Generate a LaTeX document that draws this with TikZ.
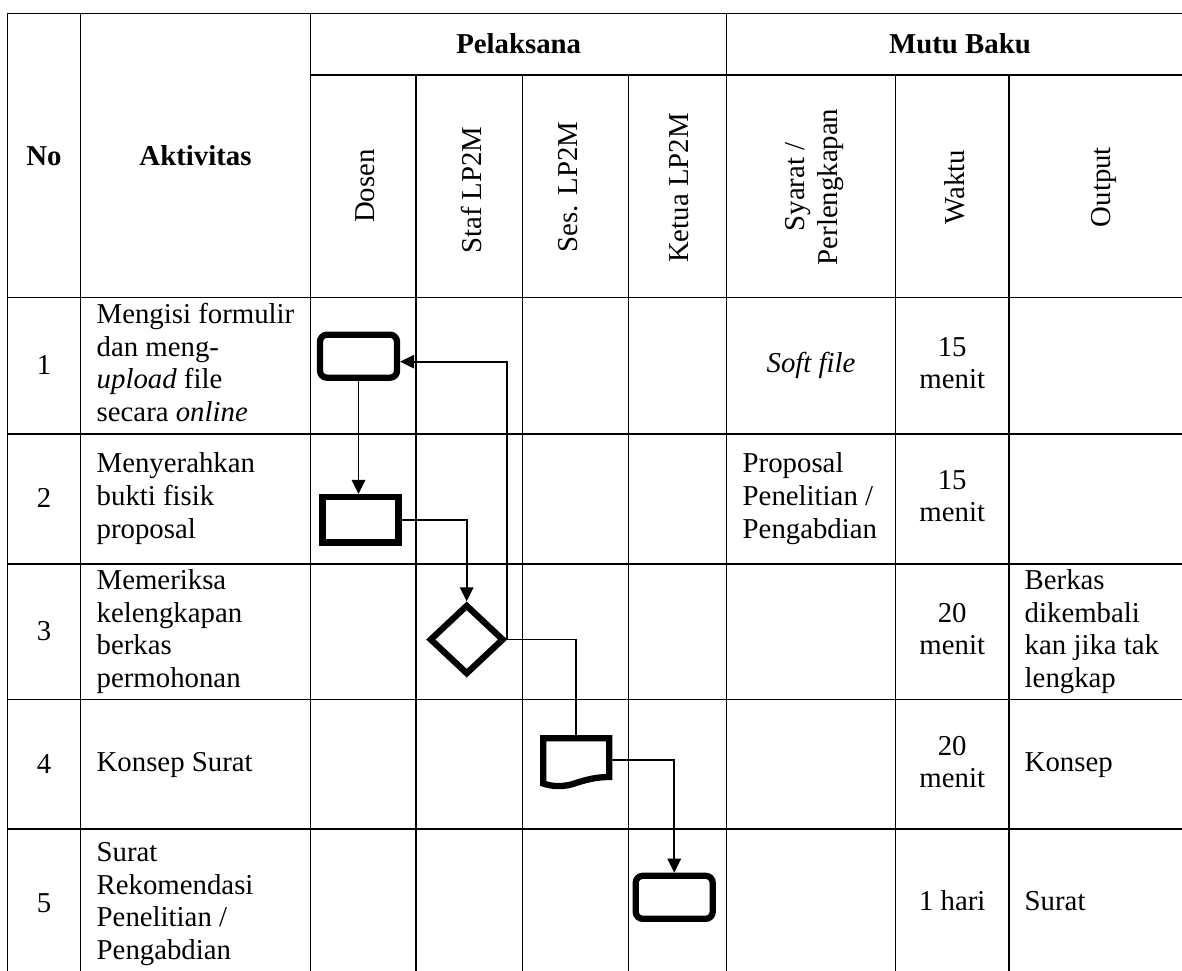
\documentclass[tikz,border=0pt]{standalone}
\usepackage{fontspec}
\setmainfont{Liberation Serif}
\usetikzlibrary{shapes.geometric,arrows.meta}
\begin{document}
\begin{tikzpicture}[x=1pt,y=-1pt,
  txt/.style={inner sep=0pt,outer sep=0pt,font=\fontsize{28.8}{32.7}\selectfont},
  hdr/.style={txt,font=\fontsize{28.8}{32.7}\selectfont\bfseries},
  vhdr/.style={txt,rotate=90,align=center},
  act/.style={txt,anchor=west,align=left},
  mid/.style={txt,align=center},
  grid/.style={line width=1.3pt,line cap=rect},
  shp/.style={draw,line width=6.3pt,inner sep=0pt,outer sep=3.15pt},
  rbox/.style={shp,rectangle,rounded corners=7pt,minimum width=77pt,minimum height=43pt},
  sbox/.style={shp,rectangle,minimum width=76pt,minimum height=45.5pt},
  dec/.style={shp,diamond,minimum width=74.4pt,minimum height=70pt},
  conn/.style={line width=1.7pt},
  arr/.style={conn,-{Triangle[length=14pt,width=13.5pt]}}
]
\useasboundingbox (0,0) rectangle (1182,970);

% ---------- table grid ----------
\draw[grid] (7.7,13.3) -- (1182,13.3);
\draw[grid] (310.7,75) -- (1182,75);
\foreach \y in {297.7,434,564,699.3,829} \draw[grid] (7.7,\y) -- (1182,\y);
\foreach \x in {7.7,80.3,310.7,726.7} \draw[grid] (\x,13.3) -- (\x,975);
\foreach \x in {416,522.3,628.3,895.3,1009} \draw[grid] (\x,75) -- (\x,975);

% ---------- header ----------
\node[hdr] (hno) at (44,156) {No};
\node[hdr] (hakt) at (195.5,156) {Aktivitas};
\node[hdr] (hpel) at (518.7,44) {Pelaksana};
\node[hdr] (hmutu) at (960,44) {Mutu Baku};
\node[vhdr] (hdosen) at (365,186) {Dosen};
\node[vhdr] (hstaf) at (471,190) {Staf LP2M};
\node[vhdr] (hses) at (568.5,187) {Ses. LP2M};
\node[vhdr] (hketua) at (679,188) {Ketua LP2M};
\node[vhdr] (hsyarat) at (814.5,187) {Syarat /\\Perlengkapan};
\node[vhdr] (hwaktu) at (955,187) {Waktu};
\node[vhdr] (houtput) at (1104.5,187) {Output};

% ---------- numbers ----------
\node[txt] (n1) at (44,368) {\strut 1};
\node[txt] (n2) at (44,501) {\strut 2};
\node[txt] (n3) at (44,634) {\strut 3};
\node[txt] (n4) at (44,767) {\strut 4};
\node[txt] (n5) at (44,906) {\strut 5};

% ---------- activities ----------
\node[act] (a1) at (96.7,366) {\strut Mengisi formulir\\\strut dan meng-\\\strut\textit{upload} file\\\strut secara \textit{online}};
\node[act] (a2) at (96.7,499) {\strut Menyerahkan\\\strut bukti fisik\\\strut proposal};
\node[act] (a3) at (96.7,632) {\strut Memeriksa\\\strut kelengkapan\\\strut berkas\\\strut permohonan};
\node[act] (a4) at (96.7,765) {\strut Konsep Surat};
\node[act] (a5) at (96.7,904) {\strut Surat\\\strut Rekomendasi\\\strut Penelitian /\\\strut Pengabdian};

% ---------- syarat ----------
\node[mid] (s1) at (811,366) {\strut\textit{Soft file}};
\node[act] (s2) at (742.7,499) {\strut Proposal\\\strut Penelitian /\\\strut Pengabdian};

% ---------- waktu ----------
\node[mid] (w1) at (952.2,366) {\strut 15\\\strut menit};
\node[mid] (w2) at (952.2,499) {\strut 15\\\strut menit};
\node[mid] (w3) at (952.2,632) {\strut 20\\\strut menit};
\node[mid] (w4) at (952.2,765) {\strut 20\\\strut menit};
\node[mid] (w5) at (952.2,904) {\strut 1 hari};

% ---------- output ----------
\node[act] (o3) at (1024.7,632) {\strut Berkas\\\strut dikembali\\\strut kan jika tak\\\strut lengkap};
\node[act] (o4) at (1024.7,765) {\strut Konsep};
\node[act] (o5) at (1024.7,904) {\strut Surat};

% ---------- flow shapes ----------
\node[rbox] (b1) at (358.5,356.2) {};
\node[sbox] (b2) at (360.5,519.8) {};
\node[dec] (d) at (466.7,639.5) {};
\node[inner sep=0pt,outer sep=0pt,minimum width=72.3pt,minimum height=50pt] (doc) at (576.2,760) {};
\draw[line width=6.3pt,line join=miter]
  (543.2,738.2) -- (609.2,738.2) -- (609.2,777)
  .. controls (598,777) and (588,779) .. (576,783)
  .. controls (565,787) and (553,787) .. (543.2,783.5) -- cycle;
\node[rbox] (k) at (674.2,897.3) {};

% ---------- connectors ----------
\coordinate (lp) at (506.7,361.7);
\draw[arr] (b1.south) -- (b1.south |- b2.north);
\draw[arr] (b2.east) -| (d.north);
\draw[arr] (d.east) -- (d.east |- lp) -- (b1.east |- lp);
\draw[conn] (d.east) -| (doc.north);
\draw[arr] (doc.east) -| (k.north);
\end{tikzpicture}
\end{document}
